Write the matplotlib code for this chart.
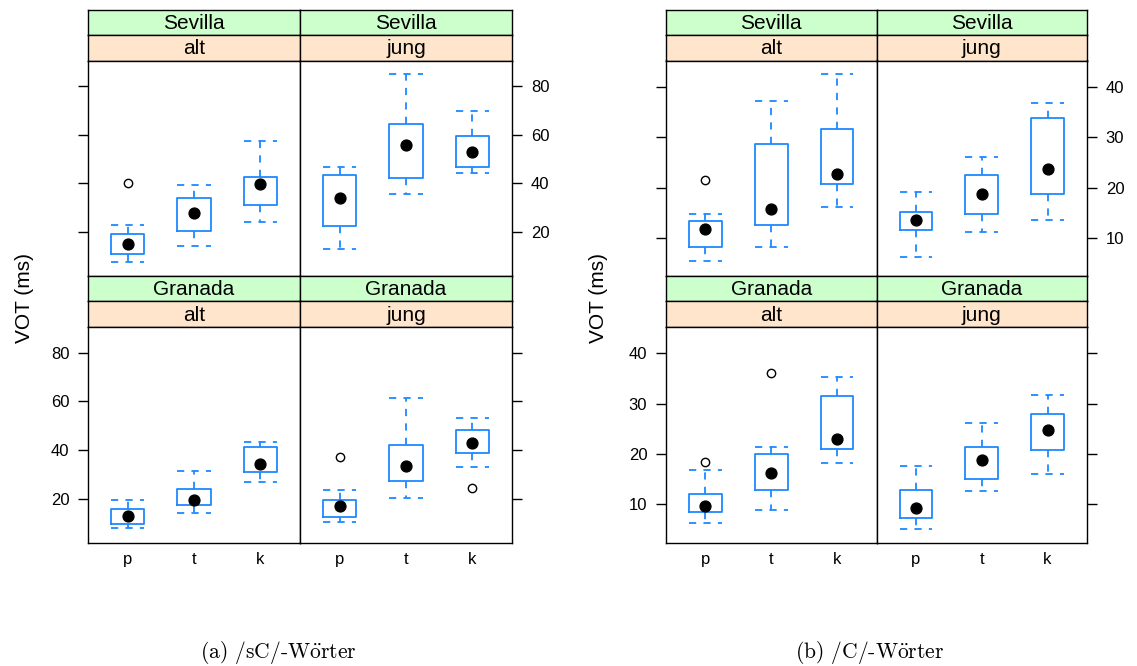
import matplotlib.pyplot as plt

plt.rcParams['font.family'] = ['Liberation Sans', 'DejaVu Sans']
plt.rcParams['mathtext.fontset'] = 'cm'

W, H = 1137, 666

cats = ['p', 't', 'k']
cities = ['Sevilla', 'Granada']
ages = ['alt', 'jung']

# (untere Antenne, Q1, Median, Q3, obere Antenne) je p / t / k
# (a) /sC/-Wörter
a_sevilla_alt = [[7.6, 11.0, 15.1, 19.2, 22.7], [14.4, 20.3, 27.8, 33.8, 39.2], [24.1, 31.2, 39.7, 42.6, 57.6]]
a_sevilla_jung = [[13.1, 22.3, 34.2, 43.4, 46.7], [35.6, 42.3, 56.0, 64.5, 85.2], [44.3, 46.6, 52.9, 59.4, 69.7]]
a_granada_alt = [[7.7, 9.5, 12.7, 15.5, 19.5], [14.0, 17.3, 19.3, 24.0, 31.4], [26.8, 31.1, 34.4, 41.1, 43.3]]
a_granada_jung = [[10.3, 12.6, 17.0, 19.5, 23.6], [20.1, 27.4, 33.2, 42.2, 61.4], [33.0, 38.9, 42.9, 48.0, 53.2]]
a_sevilla_alt_out = [[40.0], [], []]
a_sevilla_jung_out = [[], [], []]
a_granada_alt_out = [[], [], []]
a_granada_jung_out = [[37.1], [], [24.5]]

# (b) /C/-Wörter
b_sevilla_alt = [[5.4, 8.3, 11.8, 13.4, 14.8], [8.3, 12.6, 15.8, 28.7, 37.2], [16.2, 20.8, 22.7, 31.6, 42.6]]
b_sevilla_jung = [[6.2, 11.5, 13.5, 15.2, 19.1], [11.1, 14.8, 18.7, 22.5, 26.1], [13.5, 18.8, 23.8, 33.8, 36.8]]
b_granada_alt = [[6.4, 8.6, 9.6, 12.1, 16.8], [9.0, 12.8, 16.3, 20.0, 21.5], [18.2, 21.1, 23.1, 31.6, 35.4]]
b_granada_jung = [[5.1, 7.3, 9.3, 12.8, 17.6], [12.7, 15.1, 18.8, 21.5, 26.1], [16.0, 20.9, 24.8, 27.9, 31.7]]
b_sevilla_alt_out = [[21.5], [], []]
b_sevilla_jung_out = [[], [], []]
b_granada_alt_out = [[18.5], [36.1], []]
b_granada_jung_out = [[], [], []]

BLUE = '#1e88ff'
GREEN = '#ccffcc'
ORANGE = '#ffe5cc'
DASH = (0, (4, 4))

fig = plt.figure(figsize=(W / 100, H / 100), dpi=100)


def px_axes(x0, y0, x1, y1):
    # Pixelkoordinaten (oben links) -> Figure-Anteile
    return fig.add_axes([x0 / W, 1 - y1 / H, (x1 - x0) / W, (y1 - y0) / H])


def strip(x0, y0, x1, y1, color, label):
    ax = px_axes(x0, y0, x1, y1)
    ax.set_facecolor(color)
    ax.set_xticks([])
    ax.set_yticks([])
    for s in ax.spines.values():
        s.set_linewidth(1.0)
    ax.text(0.5, 0.47, label, ha='center', va='center', fontsize=15, transform=ax.transAxes)


def draw_panel(ax, stats, outliers):
    bx = [dict(whislo=s[0], q1=s[1], med=s[2], q3=s[3], whishi=s[4], fliers=o)
          for s, o in zip(stats, outliers)]
    ax.bxp(bx, positions=[1, 2, 3], widths=0.5, capwidths=0.5,
           boxprops=dict(color=BLUE, lw=1.3),
           whiskerprops=dict(color=BLUE, lw=1.3, linestyle=DASH),
           capprops=dict(color=BLUE, lw=1.3, linestyle=DASH),
           medianprops=dict(visible=False),
           flierprops=dict(marker='o', mfc='none', mec='black', ms=6, mew=1.0),
           showfliers=True)
    ax.plot([1, 2, 3], [s[2] for s in stats], 'o', color='black', ms=7.8, zorder=5)


def lattice(left, mid, right, ylim, yticks, panels, ylab_x, caption, cap_x):
    top, sh, ph = 9.5, 25.5, 215.5
    for r, city in enumerate(cities):
        ry = top + r * (2 * sh + ph)
        for c, age in enumerate(ages):
            x0, x1 = (left, mid) if c == 0 else (mid, right)
            strip(x0, ry, x1, ry + sh, GREEN, city)
            strip(x0, ry + sh, x1, ry + 2 * sh, ORANGE, age)
            ax = px_axes(x0, ry + 2 * sh, x1, ry + 2 * sh + ph)
            stats, outs = panels[(city, age)]
            draw_panel(ax, stats, outs)
            ax.set_xlim(0.4, 3.6)
            ax.set_ylim(*ylim)
            for s in ax.spines.values():
                s.set_linewidth(1.0)
            ax.set_yticks(yticks)
            if c == 0:
                ax.yaxis.set_ticks_position('left')
                ax.tick_params(axis='y', labelleft=(r == 1))
            else:
                ax.yaxis.set_ticks_position('right')
                ax.tick_params(axis='y', labelright=(r == 0))
            ax.tick_params(axis='y', direction='out', length=7.5, width=1.0, pad=6, labelsize=12)
            if r == 1:
                ax.set_xticks([1, 2, 3])
                ax.set_xticklabels(cats)
                ax.tick_params(axis='x', length=0, pad=7, labelsize=12)
            else:
                ax.set_xticks([])
    fig.text(ylab_x / W, 1 - 298 / H, 'VOT (ms)', rotation=90, ha='center', va='center', fontsize=15)
    fig.text(cap_x / W, 1 - 652 / H, caption, ha='center', va='center', fontsize=15.5,
             family=['cmr10', 'DejaVu Serif'])


panels_a = {('Sevilla', 'alt'): (a_sevilla_alt, a_sevilla_alt_out),
            ('Sevilla', 'jung'): (a_sevilla_jung, a_sevilla_jung_out),
            ('Granada', 'alt'): (a_granada_alt, a_granada_alt_out),
            ('Granada', 'jung'): (a_granada_jung, a_granada_jung_out)}
panels_b = {('Sevilla', 'alt'): (b_sevilla_alt, b_sevilla_alt_out),
            ('Sevilla', 'jung'): (b_sevilla_jung, b_sevilla_jung_out),
            ('Granada', 'alt'): (b_granada_alt, b_granada_alt_out),
            ('Granada', 'jung'): (b_granada_jung, b_granada_jung_out)}

lattice(88, 300, 512, (1.9, 90.6), [20, 40, 60, 80], panels_a, 24,
        r'(a) /sC/-W$\ddot{\rm o}$rter', 278)
lattice(666, 876.5, 1087, (2.45, 45.25), [10, 20, 30, 40], panels_b, 599,
        r'(b) /C/-W$\ddot{\rm o}$rter', 870)

fig.savefig('out.png', dpi=100)
